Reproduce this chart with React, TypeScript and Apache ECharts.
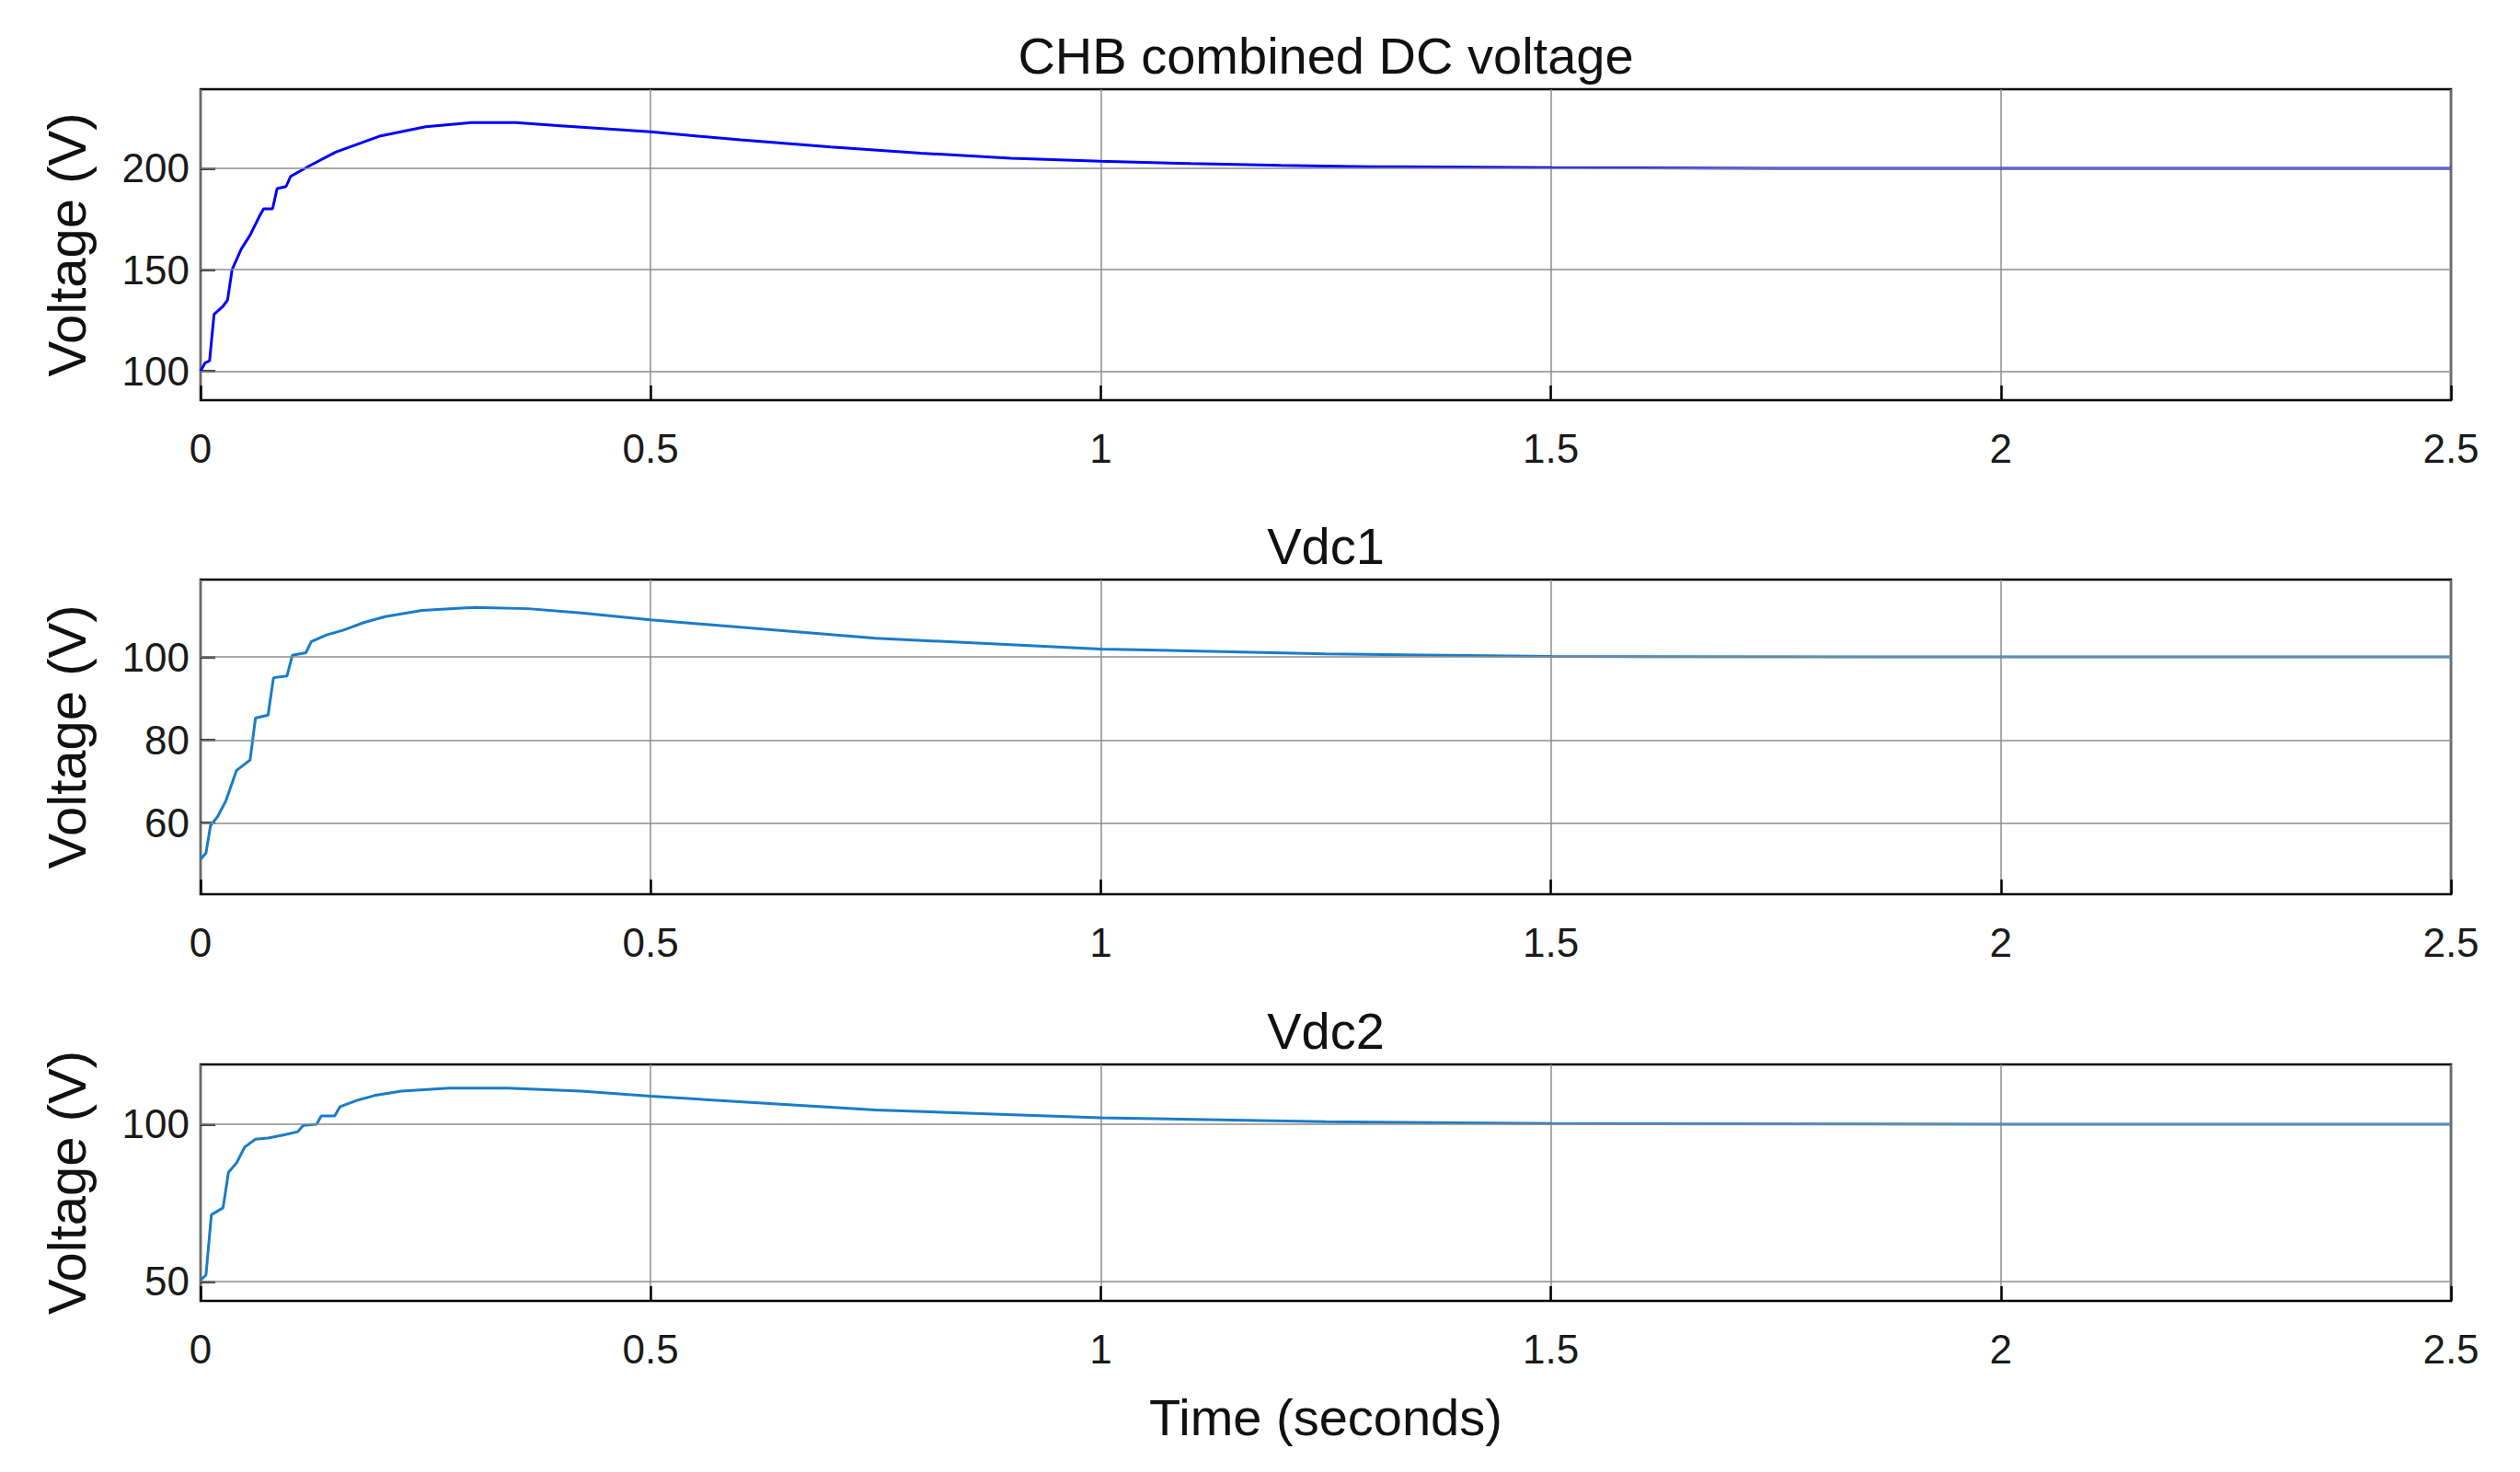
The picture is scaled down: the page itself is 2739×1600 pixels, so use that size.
import { useEffect, useRef } from 'react'
import * as echarts from 'echarts'

// sample points (time in s, voltage in V)
const tTotal = [0, 0.005, 0.01, 0.015, 0.025, 0.03, 0.035, 0.045, 0.055, 0.065, 0.07, 0.08, 0.085, 0.095, 0.1, 0.12, 0.15, 0.2, 0.25, 0.3, 0.35, 0.4, 0.5, 0.6, 0.7, 0.8, 0.9, 1.0, 1.1, 1.2, 1.3, 1.5, 1.75, 2.0, 2.5]
const vTotal = [100, 104, 105, 128, 132, 135, 150, 160, 167, 176, 180, 180, 190, 191, 196, 201, 208, 216, 220.5, 222.5, 222.5, 221, 218, 214, 210.5, 207.5, 205, 203.5, 202.3, 201.4, 200.8, 200.3, 200, 200, 200]

const tVdc1 = [0, 0.006, 0.011, 0.019, 0.028, 0.04, 0.055, 0.061, 0.075, 0.081, 0.096, 0.102, 0.117, 0.123, 0.14, 0.158, 0.182, 0.205, 0.246, 0.305, 0.364, 0.423, 0.5, 0.75, 1.0, 1.25, 1.5, 2.0, 2.5]
const vVdc1 = [51.3, 52.8, 59.4, 61.6, 65.3, 72.7, 75.2, 85.3, 86, 95, 95.4, 100.4, 101, 103.7, 105.3, 106.4, 108.3, 109.7, 111.2, 111.9, 111.6, 110.6, 108.9, 104.5, 101.9, 100.7, 100.1, 100, 100]

const tVdc2 = [0, 0.006, 0.012, 0.025, 0.031, 0.04, 0.049, 0.061, 0.075, 0.093, 0.108, 0.114, 0.129, 0.134, 0.149, 0.155, 0.173, 0.193, 0.223, 0.276, 0.341, 0.423, 0.5, 0.75, 1.0, 1.25, 1.5, 2.0, 2.5]
const vVdc2 = [50.4, 52, 71.2, 73.4, 84.7, 87.7, 92.7, 95.2, 95.6, 96.6, 97.6, 99.6, 100, 102.6, 102.6, 105.6, 107.5, 109.1, 110.5, 111.5, 111.5, 110.5, 108.9, 104.5, 102, 100.8, 100.2, 100, 100]

const titles = ['CHB combined DC voltage', 'Vdc1', 'Vdc2']
const yTicks = [[100, 150, 200], [60, 80, 100], [50, 100]]
const yRanges = [[85.6, 239], [42.9, 118.6], [43.8, 119]]

const FONT = 'Liberation Sans, Arial, sans-serif'
const L = 218
const R = 2664
const grids = [
  { top: 97, height: 338 },
  { top: 630, height: 342 },
  { top: 1157, height: 257 },
]

export default function App() {
  const ref = useRef<HTMLDivElement>(null)

  useEffect(() => {
    document.body.style.margin = '0'
    if (!ref.current) return
    const chart = echarts.init(ref.current, null, { renderer: 'svg' })
    const series = [
      { t: tTotal, v: vTotal, c: '#0000FF' },
      { t: tVdc1, v: vVdc1, c: '#1A7CC8' },
      { t: tVdc2, v: vVdc2, c: '#1A7CC8' },
    ]
    const cx = (L + R) / 2

    chart.setOption({
      animation: false,
      backgroundColor: '#ffffff',
      grid: grids.map((g) => ({
        left: L, right: 2739 - R, top: g.top, height: g.height,
        show: true, borderColor: '#000', borderWidth: 2.5, backgroundColor: '#fff',
      })),
      xAxis: grids.map((_, i) => ({
        type: 'value', gridIndex: i, min: 0, max: 2.5, interval: 0.5,
        axisLine: { show: false },
        axisTick: { show: true, inside: true, length: 16, lineStyle: { color: '#000', width: 2.5 } },
        splitLine: { show: true, lineStyle: { color: '#8c8c8c', width: 1.5 } },
        axisLabel: { color: '#1a1a1a', fontSize: 44, fontFamily: FONT, margin: 30 },
      })),
      yAxis: grids.map((_, i) => ({
        type: 'value', gridIndex: i, min: yRanges[i][0], max: yRanges[i][1],
        axisLine: { show: false },
        splitLine: { show: false },
        axisTick: { show: true, inside: true, length: 16, customValues: yTicks[i], lineStyle: { color: '#000', width: 2.5 } },
        axisLabel: { color: '#1a1a1a', fontSize: 44, fontFamily: FONT, margin: 12, customValues: yTicks[i] },
      })),
      series: series.map((s, i) => ({
        type: 'line', xAxisIndex: i, yAxisIndex: i, showSymbol: false,
        data: s.t.map((t, k) => [t, s.v[k]]),
        lineStyle: { color: s.c, width: 3 },
        markLine: {
          silent: true, symbol: 'none', label: { show: false },
          lineStyle: { color: '#8c8c8c', width: 1.5, type: 'solid' },
          data: yTicks[i].map((y) => ({ yAxis: y })),
        },
        z: 3,
      })),
      graphic: [
        ...titles.map((t, i) => ({
          type: 'text', x: cx, y: grids[i].top - 37,
          style: { text: t, font: `56px ${FONT}`, fill: '#111', align: 'center', verticalAlign: 'middle' },
        })),
        ...grids.map((g) => ({
          type: 'text', x: 72, y: g.top + g.height / 2, rotation: Math.PI / 2,
          style: { text: 'Voltage (V)', font: `58px ${FONT}`, fill: '#111', align: 'center', verticalAlign: 'middle' },
        })),
        {
          type: 'text', x: cx, y: 1540,
          style: { text: 'Time (seconds)', font: `56px ${FONT}`, fill: '#111', align: 'center', verticalAlign: 'middle' },
        },
      ],
    })

    return () => chart.dispose()
  }, [])

  return <div ref={ref} style={{ width: 2739, height: 1600 }} />
}
